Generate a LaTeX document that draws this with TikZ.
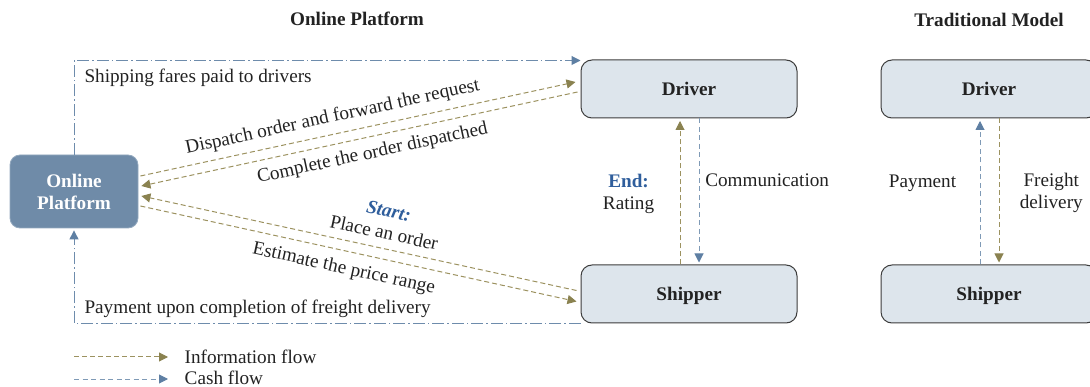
\documentclass[tikz,border=0pt]{standalone}
\usepackage{fontspec}
\setmainfont{Liberation Serif}
\usetikzlibrary{arrows.meta,calc}

\definecolor{infoline}{HTML}{9C9260}
\definecolor{infohead}{HTML}{8A8250}
\definecolor{cashline}{HTML}{7F9AB6}
\definecolor{cashhead}{HTML}{5E7FA3}
\definecolor{platfill}{HTML}{6F8BA8}
\definecolor{boxfill}{HTML}{DDE5EC}
\definecolor{boxline}{HTML}{3C3C3C}
\definecolor{tagblue}{HTML}{2F5E9C}
\definecolor{txt}{HTML}{222222}

\begin{document}
\begin{tikzpicture}[x=1pt, y=-1pt,
  every node/.style={font=\fontsize{19.2}{22}\selectfont, text=txt},
  agent/.style={draw=boxline, line width=1pt, fill=boxfill, rounded corners=11pt,
    minimum width=216pt, minimum height=58pt, text depth=0pt,
    font=\fontsize{19.2}{22}\selectfont\bfseries},
  hub/.style={fill=platfill, draw=platfill!75!white, line width=0.8pt, rounded corners=10pt,
    minimum width=128pt, minimum height=73pt, align=center, text=white,
    font=\fontsize{19.2}{22}\selectfont\bfseries},
  title/.style={font=\fontsize{19.2}{22}\selectfont\bfseries},
  legendtext/.style={anchor=west, inner sep=0pt},
  info/.style={draw=infoline, line width=1pt, dash pattern=on 5pt off 3pt,
    -{Triangle[length=9pt, width=9pt, color=infohead]}},
  cash/.style={draw=cashline, line width=1pt, dash pattern=on 5pt off 3.5pt,
    -{Triangle[length=9pt, width=9pt, color=cashhead]}},
  cashmain/.style={draw=cashhead!90!white, line width=1pt,
    dash pattern=on 12pt off 3pt on 1.5pt off 3pt,
    -{Triangle[length=9pt, width=9pt, color=cashhead]}},
]
\useasboundingbox (0,0) rectangle (1090,387);

% titles
\node[title] (t1) at (357,19) {Online Platform};
\node[title] (t2) at (989,20) {Traditional Model};

% actors
\node[hub] (plat) at (74,191.5) {Online\\Platform};
\node[agent] (drv) at (689,89) {Driver};
\node[agent] (shp) at (689,294) {Shipper};
\begin{scope}
  \clip (0,0) rectangle (1090,387);
  \node[agent] (tdrv) at (989,89) {Driver};
  \node[agent] (tshp) at (989,294) {Shipper};
\end{scope}

% cash flows of the platform
\draw[cashmain] (plat.north) |- ($(drv.north west)+(0,1)$);
\node[anchor=west] (fare) at (81,77.5) {Shipping fares paid to drivers};
\draw[cashmain, shorten >=2pt] (shp.south west) -| (plat.south);
\node[anchor=west] (pay) at (81,309) {Payment upon completion of freight delivery};

% information flows between platform and driver
\coordinate (pd1) at ($(plat.east)+(2,-15.5)$);
\coordinate (pd2) at ($(plat.east)+(3,-5.5)$);
\coordinate (dd1) at ($(drv.west)+(-5,-7)$);
\coordinate (dd2) at ($(drv.west)+(-3,3)$);
\draw[info] (pd1) -- (dd1)
  node[pos=0.45, sloped, above=4pt] (lab1) {Dispatch order and forward the request};
\draw[info] (dd2) -- (pd2)
  node[pos=0.478, sloped, below=4.5pt] (lab2) {Complete the order dispatched};

% information flows between platform and shipper
\coordinate (ps1) at ($(plat.east)+(3,4.5)$);
\coordinate (ps2) at ($(plat.east)+(2,14.5)$);
\coordinate (sd1) at ($(shp.west)+(-4,-3.5)$);
\coordinate (sd2) at ($(shp.west)+(-4,7.5)$);
\draw[info] (sd1) -- (ps1)
  node[pos=0.45, sloped, above=5.5pt, align=center] (lab3)
  {{\color{tagblue}\bfseries\itshape Start:}\\Place an order};
\draw[info] (ps2) -- (sd2)
  node[pos=0.475, sloped, below=5.5pt] (lab4) {Estimate the price range};

% driver and shipper on the platform
\draw[info, shorten >=2.5pt] ([xshift=-9pt]shp.north) -- ([xshift=-9pt]drv.south)
  node[midway, left=22pt, yshift=-2pt, align=center] (lab5)
  {{\color{tagblue}\bfseries End:}\\Rating};
\draw[cash, shorten >=2pt] ([xshift=10pt]drv.south) -- ([xshift=10pt]shp.north)
  node[pos=0.42, right=2.5pt] (lab6) {Communication};

% traditional model
\draw[cash, shorten >=2.5pt] ([xshift=-9pt]tshp.north) -- ([xshift=-9pt]tdrv.south)
  node[pos=0.58, left=20pt, yshift=-3pt] (lab7) {Payment};
\draw[info, shorten >=2pt] ([xshift=10pt]tdrv.south) -- ([xshift=10pt]tshp.north)
  node[midway, right=17pt, yshift=-1.5pt, align=center] (lab8) {Freight\\delivery};

% legend
\coordinate (li0) at (74,357);
\coordinate (li1) at (168,357);
\coordinate (lc0) at (74,379);
\coordinate (lc1) at (168,379);
\draw[info] (li0) -- (li1);
\draw[cash] (lc0) -- (lc1);
\node[legendtext] (leg1) at (184.5,356.5) {Information flow};
\node[legendtext] (leg2) at (184.5,378.3) {Cash flow};
\end{tikzpicture}
\end{document}
